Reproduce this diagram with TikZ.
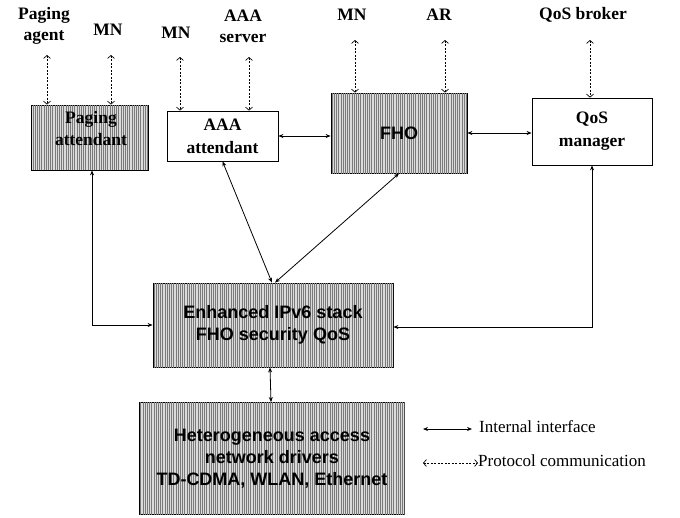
\documentclass[tikz,border=0pt]{standalone}
\usepackage{fontspec}
\setmainfont{Liberation Serif}
\setsansfont{Liberation Sans}
\usetikzlibrary{arrows.meta,patterns.meta}
\begin{document}
\begin{tikzpicture}[x=1pt,y=-1pt,
  striped/.style={draw=black, line width=0.8pt, fill=black!14,
    postaction={pattern={Lines[angle=90,distance=2.2pt,line width=0.75pt]}, pattern color=black!52},
    inner sep=0pt, font=\sffamily\bfseries\fontsize{18}{22}\selectfont, align=center},
  plainbox/.style={draw=black, line width=0.8pt, fill=white, inner sep=0pt,
    font=\bfseries\fontsize{17.5}{23}\selectfont, align=center},
  lbl/.style={font=\bfseries\fontsize{17.5}{21}\selectfont, align=center, inner sep=0pt},
  btxt/.style={font=\bfseries\fontsize{17.5}{22}\selectfont, align=center, inner sep=0pt},
  iface/.style={line width=0.8pt, {Stealth[length=5pt,width=4pt]}-{Stealth[length=5pt,width=4pt]}},
  proto/.style={line width=0.7pt, dash pattern=on 2pt off 1.5pt, {Straight Barb[length=3pt,width=7pt]}-{Straight Barb[length=3pt,width=7pt]}},
  legtxt/.style={font=\fontsize{17}{20}\selectfont, inner sep=0pt, anchor=west}
]
\useasboundingbox (0,0) rectangle (680,517);

% boxes
\node[striped, minimum width=117, minimum height=65] (pa) at (89.5,137.5) {};
\node[btxt] (pat) at (91,129) {Paging\\attendant};
\node[plainbox, minimum width=111, minimum height=50] (aaa) at (222.5,136) {AAA\\attendant};
\node[striped, minimum width=136, minimum height=80] (fho) at (399,133) {FHO};
\node[plainbox, minimum width=120, minimum height=67] (qos) at (592,131.5) {QoS\\manager};
\node[striped, minimum width=240, minimum height=84] (ipv6) at (273,325) {Enhanced IPv6 stack\\FHO security QoS};
\node[striped, minimum width=265, minimum height=112] (het) at (272,458.5) {Heterogeneous access\\network drivers\\TD-CDMA, WLAN, Ethernet};

% top labels
\node[lbl] (pagent) at (44,25.5) {Paging\\agent};
\node[lbl] (mn1) at (108,30) {MN};
\node[lbl] (mn2) at (176,33) {MN};
\node[lbl] (aaas) at (243,26) {AAA\\server};
\node[lbl] (mn3) at (352,15) {MN};
\node[lbl] (ar) at (439,15) {AR};
\node[lbl] (qb) at (583,15) {QoS broker};

% protocol arrows
\coordinate (d1) at (47,55);
\coordinate (d2) at (111,55);
\coordinate (d3) at (180,57);
\coordinate (d4) at (249,57);
\coordinate (d5) at (355,40);
\coordinate (d6) at (445,40);
\coordinate (d7) at (590,40);
\draw[proto] (d1) -- (d1 |- pa.north);
\draw[proto] (d2) -- (d2 |- pa.north);
\draw[proto] (d3) -- (d3 |- aaa.north);
\draw[proto] (d4) -- (d4 |- aaa.north);
\draw[proto] (d5) -- (d5 |- fho.north);
\draw[proto] (d6) -- (d6 |- fho.north);
\draw[proto] (d7) -- (d7 |- qos.north);

% internal interfaces
\draw[iface] (aaa.east) -- (aaa.east -| fho.west);
\draw[iface] (fho.east) -- (fho.east -| qos.west);
\draw[iface] ([xshift=2.5]pa.south) |- (ipv6.west);
\draw[iface] (qos.south) |- ([yshift=-2]ipv6.east);
\draw[iface] (aaa.south) -- ([xshift=-1]ipv6.north);
\draw[iface] (fho.south) -- ([xshift=2]ipv6.north);
\draw[iface] ([xshift=-3]ipv6.south) -- ([xshift=-1]het.north);

% legend
\coordinate (l1a) at (423,429);
\coordinate (l1b) at (472,429);
\coordinate (l2a) at (423,463);
\coordinate (l2b) at (478,463);
\draw[iface] (l1a) -- (l1b);
\draw[proto] (l2a) -- (l2b);
\node[legtxt] (lt1) at (479,427) {Internal interface};
\node[legtxt] (lt2) at (478,461) {Protocol communication};
\end{tikzpicture}
\end{document}
